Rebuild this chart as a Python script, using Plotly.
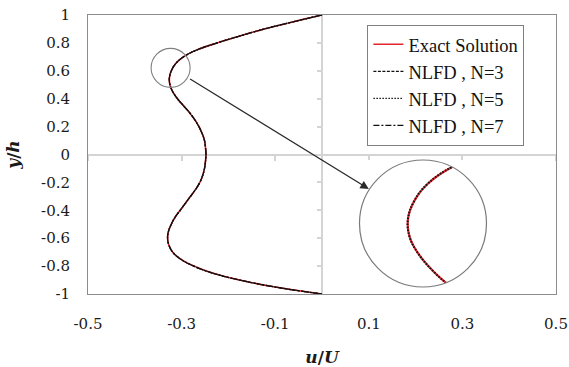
import numpy as np
import plotly.graph_objects as go

# Velocity profile across the channel (y/h from wall to wall)
y_h = [1.0, 0.95, 0.9, 0.85, 0.8, 0.75, 0.7, 0.65, 0.6, 0.55, 0.5, 0.45, 0.4,
       0.35, 0.3, 0.25, 0.2, 0.15, 0.1, 0.05, 0.0, -0.05, -0.1, -0.15, -0.2,
       -0.25, -0.3, -0.35, -0.4, -0.45, -0.5, -0.55, -0.6, -0.65, -0.7, -0.75,
       -0.8, -0.85, -0.9, -0.95, -1.0]
u_exact = [0.0, -0.063, -0.123, -0.175, -0.224, -0.267, -0.296, -0.313, -0.322,
           -0.326, -0.325, -0.319, -0.309, -0.296, -0.283, -0.272, -0.263,
           -0.256, -0.251, -0.249, -0.248, -0.249, -0.251, -0.255, -0.261,
           -0.270, -0.281, -0.292, -0.303, -0.314, -0.322, -0.328, -0.330,
           -0.327, -0.319, -0.302, -0.274, -0.234, -0.176, -0.100, 0.0]
u_nlfd3 = list(u_exact)
u_nlfd5 = list(u_exact)
u_nlfd7 = list(u_exact)

x_tick_vals = [-0.5, -0.3, -0.1, 0.1, 0.3, 0.5]
x_tick_text = ["-0.5", "-0.3", "-0.1", "0.1", "0.3", "0.5"]
y_tick_vals = [1, 0.8, 0.6, 0.4, 0.2, 0, -0.2, -0.4, -0.6, -0.8, -1]
y_tick_text = ["1", "0.8", "0.6", "0.4", "0.2", "0", "-0.2", "-0.4", "-0.6", "-0.8", "-1"]

RED = "#e3262c"
BLACK = "#111111"
FRAME = "#8c8c8c"
ZERO = "#d4d4d4"
SMOOTH = 1.2

series = [
    ("Exact Solution", u_exact, dict(color=RED, width=1.6, dash="solid")),
    ("NLFD , N=3", u_nlfd3, dict(color=BLACK, width=1.2, dash="3px,1.5px")),
    ("NLFD , N=5", u_nlfd5, dict(color=BLACK, width=1.3, dash="1.5px,1.5px")),
    ("NLFD , N=7", u_nlfd7, dict(color=BLACK, width=1.2, dash="6px,2px,2px,2px")),
]

fig = go.Figure()
for name, u, line in series:
    fig.add_trace(go.Scatter(x=u, y=y_h, mode="lines", name=name,
                             line=dict(shape="spline", smoothing=SMOOTH, **line),
                             hoverinfo="skip"))

# magnified view inside the big circle
for name, u, line in [series[0], series[2]]:
    ln = dict(line)
    ln["width"] = 2.2 if name == "Exact Solution" else 2.0
    fig.add_trace(go.Scatter(x=u, y=y_h, mode="lines", showlegend=False,
                             xaxis="x3", yaxis="y3",
                             line=dict(shape="spline", smoothing=SMOOTH, **ln),
                             hoverinfo="skip"))

# carriers for the tick marks along the zero lines
fig.add_trace(go.Scatter(x=[None], y=[None], xaxis="x2", yaxis="y", showlegend=False, hoverinfo="skip"))
fig.add_trace(go.Scatter(x=[None], y=[None], xaxis="x", yaxis="y2", showlegend=False, hoverinfo="skip"))

tick_font = dict(family="DejaVu Serif", size=15, color="#1a1a1a")
title_font = dict(family="DejaVu Serif", size=17, color="#1a1a1a")

# geometry of the magnifier (paper units)
cx, cy = 0.7158, 0.2527
rx, ry = 63.5 / 468, 63.5 / 279
ins_x = [-0.316 - 0.0423, -0.316 + 0.0423]
ins_y = [0.537 - 0.1814, 0.537 + 0.1814]

theta = np.linspace(0, 2 * np.pi, 121)
circ = " ".join(
    f"{'M' if i == 0 else 'L'}{cx + rx * np.cos(t):.5f},{cy + ry * np.sin(t):.5f}"
    for i, t in enumerate(theta)
) + " Z"
x0, x1, y0, y1 = cx - rx, cx + rx, cy - ry, cy + ry
mask = f"M{x0:.5f},{y0:.5f} L{x1:.5f},{y0:.5f} L{x1:.5f},{y1:.5f} L{x0:.5f},{y1:.5f} Z " + circ

fig.update_layout(
    width=569, height=367,
    margin=dict(l=88, r=13, t=15, b=73),
    plot_bgcolor="white", paper_bgcolor="white",
    showlegend=True,
    legend=dict(x=0.597, y=0.965, xanchor="left", yanchor="top",
                bgcolor="white", bordercolor="#7f7f7f", borderwidth=1,
                font=dict(family="Liberation Serif, Times New Roman, serif", size=18.5,
                          color="#111111"),
                tracegroupgap=0, itemwidth=30),
    xaxis=dict(range=[-0.5, 0.5], tickvals=x_tick_vals, ticktext=x_tick_text,
               showgrid=False, zeroline=True, zerolinecolor=ZERO, zerolinewidth=2,
               showline=True, mirror=True, linecolor=FRAME, linewidth=1,
               ticks="", tickfont=tick_font, ticklabelstandoff=16, automargin=False,
               title=dict(text="<b><i>u</i>/<i>U</i></b>", font=title_font, standoff=21)),
    yaxis=dict(range=[-1, 1], tickvals=y_tick_vals, ticktext=y_tick_text,
               showgrid=False, zeroline=True, zerolinecolor=ZERO, zerolinewidth=2,
               showline=True, mirror=True, linecolor=FRAME, linewidth=1,
               ticks="", tickfont=tick_font, ticklabelstandoff=14, automargin=False,
               title=dict(text="<b><i>y</i>/<i>h</i></b>", font=title_font, standoff=17)),
    xaxis2=dict(overlaying="x", anchor="free", position=0.5, side="bottom",
                range=[-0.5, 0.5], tickvals=x_tick_vals, showticklabels=False,
                ticks="outside", ticklen=5, tickwidth=1.5, tickcolor=ZERO,
                showline=False, showgrid=False, zeroline=False, layer="below traces",
                automargin=False),
    yaxis2=dict(overlaying="y", anchor="free", position=0.5, side="left",
                range=[-1, 1], tickvals=y_tick_vals, showticklabels=False,
                ticks="outside", ticklen=5, tickwidth=1.5, tickcolor=ZERO,
                showline=False, showgrid=False, zeroline=False, layer="below traces",
                automargin=False),
    xaxis3=dict(domain=[x0, x1], anchor="y3", range=ins_x, visible=False),
    yaxis3=dict(domain=[y0, y1], anchor="x3", range=ins_y, visible=False),
    shapes=[
        # small circle around the region that is magnified
        dict(type="circle", xref="x", yref="y",
             x0=-0.3235 - 0.0417, x1=-0.3235 + 0.0417, y0=0.621 - 0.140, y1=0.621 + 0.140,
             line=dict(color="#808080", width=1.1), layer="above"),
        # white mask outside the magnifier circle
        dict(type="path", xref="paper", yref="paper", path=mask, fillrule="evenodd",
             fillcolor="white", line=dict(width=0), layer="above"),
        dict(type="circle", xref="paper", yref="paper", x0=x0, x1=x1, y0=y0, y1=y1,
             line=dict(color="#7a7a7a", width=1.2), layer="above"),
    ],
    annotations=[
        dict(x=0.100, y=-0.247, xref="x", yref="y", ax=-0.285, ay=0.548,
             axref="x", ayref="y", text="", showarrow=True, arrowhead=2,
             arrowsize=1.3, arrowwidth=1.3, arrowcolor="#2a2a2a"),
    ],
)

fig.write_html("out.html")
